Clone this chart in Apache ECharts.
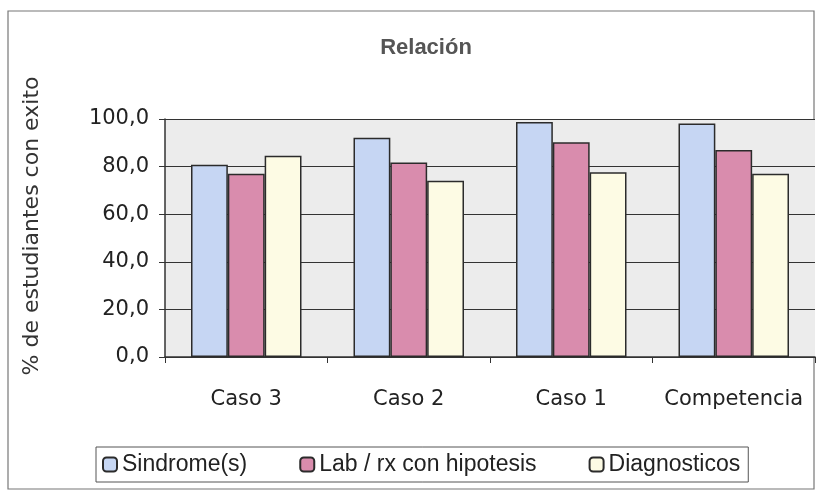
<!DOCTYPE html>
<html>
<head>
<meta charset="utf-8">
<script src="https://cdn.jsdelivr.net/npm/echarts@6/dist/echarts.min.js"></script>
<style>
  html, body { margin: 0; padding: 0; background: #fff; }
  #chart { width: 820px; height: 495px; }
</style>
</head>
<body>
<div id="chart"></div>
<script>
const categories = ['Caso 3', 'Caso 2', 'Caso 1', 'Competencia']
const sindromes = [80.8, 92.1, 98.7, 98.1]
const labHipotesis = [77.0, 81.7, 90.2, 87.0]
const diagnosticos = [84.6, 74.1, 77.6, 77.0]
const yTicks = [0, 20, 40, 60, 80, 100]

const chart = echarts.init(document.getElementById('chart'))

const font = "'DejaVu Sans', 'Liberation Sans', sans-serif"
const barStyle = color => ({
    color: color,
    borderColor: '#2b2b2b',
    borderWidth: 1.5
})

const option = {
    backgroundColor: '#fff',
    animation: false,
    title: {
        text: 'Relación',
        left: 421,
        top: 32,
        textAlign: 'center',
        textStyle: { fontFamily: "'Liberation Sans', Arial, sans-serif", fontSize: 22, fontWeight: 'bold', color: '#555' }
    },
    graphic: [{
        type: 'rect',
        shape: { x: 8, y: 11, width: 806, height: 478 },
        style: { fill: 'none', stroke: '#777', lineWidth: 1.2 },
        z: -1
    }],
    legend: {
        left: 96,
        top: 447,
        itemWidth: 14,
        itemHeight: 14,
        itemGap: 52,
        padding: [6, 8, 6, 6],
        borderColor: '#555',
        borderWidth: 1,
        textStyle: { fontFamily: "'Liberation Sans', Arial, sans-serif", fontSize: 23, color: '#222' },
        data: ['Sindrome(s)', 'Lab / rx con hipotesis', 'Diagnosticos']
    },
    grid: {
        left: 165,
        right: 5,
        top: 119,
        bottom: 138,
        show: true,
        backgroundColor: '#ececec',
        borderWidth: 0
    },
    xAxis: {
        type: 'category',
        data: categories,
        axisLine: { lineStyle: { color: '#333', width: 1.5 } },
        axisTick: { show: true, length: 6, lineStyle: { color: '#333' } },
        axisLabel: { interval: 0, fontFamily: font, fontSize: 21, color: '#222', margin: 32 }
    },
    yAxis: {
        type: 'value',
        min: yTicks[0],
        max: yTicks[yTicks.length - 1],
        interval: 20,
        name: '% de estudiantes con exito',
        nameLocation: 'middle',
        nameGap: 122,
        nameTextStyle: { fontFamily: font, fontSize: 22, color: '#333', padding: [0, 0, 0, 24] },
        axisLine: { show: true, lineStyle: { color: '#333', width: 1.5 } },
        axisTick: { show: true, length: 6, lineStyle: { color: '#333' } },
        splitLine: { lineStyle: { color: '#333', width: 1 } },
        axisLabel: {
            fontFamily: font, fontSize: 21, color: '#222', margin: 16,
            formatter: v => v.toFixed(1).replace('.', ',')
        }
    },
    series: [
        {
            name: 'Sindrome(s)', type: 'bar', data: sindromes,
            barGap: '0%', barCategoryGap: '32%',
            itemStyle: barStyle('#c6d6f3')
        },
        {
            name: 'Lab / rx con hipotesis', type: 'bar', data: labHipotesis,
            itemStyle: barStyle('#d98cad')
        },
        {
            name: 'Diagnosticos', type: 'bar', data: diagnosticos,
            itemStyle: barStyle('#fdfbe4')
        }
    ]
}

chart.setOption(option)
</script>
</body>
</html>
